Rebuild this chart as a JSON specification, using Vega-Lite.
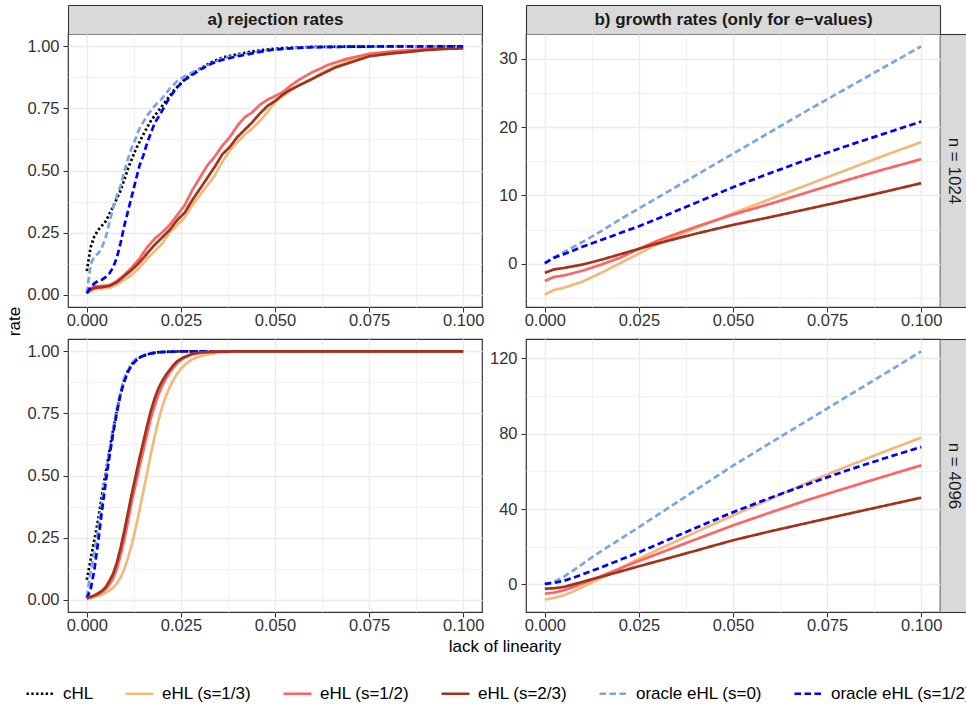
{
  "$schema": "https://vega.github.io/schema/vega-lite/v6.json",
  "padding": {"left": 5, "top": 3, "right": 5, "bottom": 5},
  "config": {
    "font": "Liberation Sans",
    "view": {"stroke": "#333333", "strokeWidth": 1.2},
    "axis": {"labelFontSize": 16.5, "labelColor": "#333333", "tickColor": "#333333", "tickSize": 5, "tickWidth": 1.1, "labelPadding": 3.5, "domain": false, "gridColor": "#EBEBEB", "titleFontSize": 17, "titleFontWeight": "normal", "titleColor": "#000000", "labelOverlap": false, "labelFlush": false},
    "axisX": {"labelPadding": 0.5},
    "axisY": {"labelPadding": 4},
    "legend": {"orient": "none", "legendX": -43, "legendY": 644, "direction": "horizontal", "columns": 6, "symbolType": "stroke", "symbolSize": 784, "symbolStrokeWidth": 2.7, "labelFontSize": 17, "labelColor": "#000000", "labelOffset": 7, "columnPadding": 26, "labelLimit": 300, "padding": 0}
  },
  "datasets": {
    "a1024": [
      {"method":"cHL","lack":0,"value":0.095},{"method":"cHL","lack":0.001,"value":0.19},{"method":"cHL","lack":0.002,"value":0.235},{"method":"cHL","lack":0.003,"value":0.26},{"method":"cHL","lack":0.005,"value":0.295},{"method":"cHL","lack":0.007,"value":0.355},{"method":"cHL","lack":0.009,"value":0.42},{"method":"cHL","lack":0.011,"value":0.51},{"method":"cHL","lack":0.013,"value":0.585},{"method":"cHL","lack":0.015,"value":0.645},{"method":"cHL","lack":0.017,"value":0.7},{"method":"cHL","lack":0.019,"value":0.74},{"method":"cHL","lack":0.021,"value":0.78},{"method":"cHL","lack":0.023,"value":0.82},{"method":"cHL","lack":0.025,"value":0.852},{"method":"cHL","lack":0.027,"value":0.88},{"method":"cHL","lack":0.03,"value":0.91},{"method":"cHL","lack":0.033,"value":0.935},{"method":"cHL","lack":0.036,"value":0.955},{"method":"cHL","lack":0.04,"value":0.968},{"method":"cHL","lack":0.044,"value":0.98},{"method":"cHL","lack":0.048,"value":0.988},{"method":"cHL","lack":0.052,"value":0.993},{"method":"cHL","lack":0.056,"value":0.996},{"method":"cHL","lack":0.06,"value":0.998},{"method":"cHL","lack":0.07,"value":0.999},{"method":"cHL","lack":0.08,"value":1},{"method":"cHL","lack":0.09,"value":1},{"method":"cHL","lack":0.1,"value":1},
      {"method":"oracle eHL (s=0)","lack":0,"value":0.005},{"method":"oracle eHL (s=0)","lack":0.001,"value":0.12},{"method":"oracle eHL (s=0)","lack":0.002,"value":0.155},{"method":"oracle eHL (s=0)","lack":0.003,"value":0.165},{"method":"oracle eHL (s=0)","lack":0.004,"value":0.19},{"method":"oracle eHL (s=0)","lack":0.005,"value":0.23},{"method":"oracle eHL (s=0)","lack":0.006,"value":0.29},{"method":"oracle eHL (s=0)","lack":0.007,"value":0.35},{"method":"oracle eHL (s=0)","lack":0.008,"value":0.4},{"method":"oracle eHL (s=0)","lack":0.009,"value":0.44},{"method":"oracle eHL (s=0)","lack":0.01,"value":0.5},{"method":"oracle eHL (s=0)","lack":0.011,"value":0.55},{"method":"oracle eHL (s=0)","lack":0.012,"value":0.595},{"method":"oracle eHL (s=0)","lack":0.013,"value":0.63},{"method":"oracle eHL (s=0)","lack":0.014,"value":0.67},{"method":"oracle eHL (s=0)","lack":0.016,"value":0.72},{"method":"oracle eHL (s=0)","lack":0.018,"value":0.76},{"method":"oracle eHL (s=0)","lack":0.02,"value":0.79},{"method":"oracle eHL (s=0)","lack":0.022,"value":0.83},{"method":"oracle eHL (s=0)","lack":0.024,"value":0.86},{"method":"oracle eHL (s=0)","lack":0.026,"value":0.88},{"method":"oracle eHL (s=0)","lack":0.028,"value":0.895},{"method":"oracle eHL (s=0)","lack":0.03,"value":0.91},{"method":"oracle eHL (s=0)","lack":0.033,"value":0.93},{"method":"oracle eHL (s=0)","lack":0.036,"value":0.952},{"method":"oracle eHL (s=0)","lack":0.04,"value":0.965},{"method":"oracle eHL (s=0)","lack":0.044,"value":0.975},{"method":"oracle eHL (s=0)","lack":0.048,"value":0.985},{"method":"oracle eHL (s=0)","lack":0.052,"value":0.99},{"method":"oracle eHL (s=0)","lack":0.056,"value":0.994},{"method":"oracle eHL (s=0)","lack":0.06,"value":0.996},{"method":"oracle eHL (s=0)","lack":0.07,"value":0.998},{"method":"oracle eHL (s=0)","lack":0.08,"value":0.999},{"method":"oracle eHL (s=0)","lack":0.09,"value":1},{"method":"oracle eHL (s=0)","lack":0.1,"value":1},
      {"method":"oracle eHL (s=1/2)","lack":0,"value":0.005},{"method":"oracle eHL (s=1/2)","lack":0.001,"value":0.03},{"method":"oracle eHL (s=1/2)","lack":0.002,"value":0.045},{"method":"oracle eHL (s=1/2)","lack":0.003,"value":0.055},{"method":"oracle eHL (s=1/2)","lack":0.004,"value":0.06},{"method":"oracle eHL (s=1/2)","lack":0.005,"value":0.07},{"method":"oracle eHL (s=1/2)","lack":0.006,"value":0.085},{"method":"oracle eHL (s=1/2)","lack":0.007,"value":0.11},{"method":"oracle eHL (s=1/2)","lack":0.008,"value":0.15},{"method":"oracle eHL (s=1/2)","lack":0.009,"value":0.21},{"method":"oracle eHL (s=1/2)","lack":0.01,"value":0.28},{"method":"oracle eHL (s=1/2)","lack":0.011,"value":0.34},{"method":"oracle eHL (s=1/2)","lack":0.012,"value":0.4},{"method":"oracle eHL (s=1/2)","lack":0.013,"value":0.46},{"method":"oracle eHL (s=1/2)","lack":0.014,"value":0.52},{"method":"oracle eHL (s=1/2)","lack":0.015,"value":0.56},{"method":"oracle eHL (s=1/2)","lack":0.016,"value":0.61},{"method":"oracle eHL (s=1/2)","lack":0.017,"value":0.65},{"method":"oracle eHL (s=1/2)","lack":0.018,"value":0.69},{"method":"oracle eHL (s=1/2)","lack":0.019,"value":0.715},{"method":"oracle eHL (s=1/2)","lack":0.02,"value":0.74},{"method":"oracle eHL (s=1/2)","lack":0.022,"value":0.795},{"method":"oracle eHL (s=1/2)","lack":0.024,"value":0.835},{"method":"oracle eHL (s=1/2)","lack":0.026,"value":0.865},{"method":"oracle eHL (s=1/2)","lack":0.028,"value":0.885},{"method":"oracle eHL (s=1/2)","lack":0.03,"value":0.905},{"method":"oracle eHL (s=1/2)","lack":0.033,"value":0.93},{"method":"oracle eHL (s=1/2)","lack":0.036,"value":0.946},{"method":"oracle eHL (s=1/2)","lack":0.04,"value":0.96},{"method":"oracle eHL (s=1/2)","lack":0.044,"value":0.972},{"method":"oracle eHL (s=1/2)","lack":0.048,"value":0.984},{"method":"oracle eHL (s=1/2)","lack":0.052,"value":0.99},{"method":"oracle eHL (s=1/2)","lack":0.056,"value":0.994},{"method":"oracle eHL (s=1/2)","lack":0.06,"value":0.997},{"method":"oracle eHL (s=1/2)","lack":0.07,"value":0.999},{"method":"oracle eHL (s=1/2)","lack":0.08,"value":1},{"method":"oracle eHL (s=1/2)","lack":0.1,"value":1},
      {"method":"eHL (s=1/3)","lack":0,"value":0.005},{"method":"eHL (s=1/3)","lack":0.002,"value":0.02},{"method":"eHL (s=1/3)","lack":0.004,"value":0.025},{"method":"eHL (s=1/3)","lack":0.006,"value":0.027},{"method":"eHL (s=1/3)","lack":0.008,"value":0.04},{"method":"eHL (s=1/3)","lack":0.01,"value":0.06},{"method":"eHL (s=1/3)","lack":0.012,"value":0.08},{"method":"eHL (s=1/3)","lack":0.014,"value":0.11},{"method":"eHL (s=1/3)","lack":0.016,"value":0.145},{"method":"eHL (s=1/3)","lack":0.018,"value":0.175},{"method":"eHL (s=1/3)","lack":0.02,"value":0.205},{"method":"eHL (s=1/3)","lack":0.022,"value":0.25},{"method":"eHL (s=1/3)","lack":0.024,"value":0.28},{"method":"eHL (s=1/3)","lack":0.026,"value":0.31},{"method":"eHL (s=1/3)","lack":0.028,"value":0.36},{"method":"eHL (s=1/3)","lack":0.03,"value":0.4},{"method":"eHL (s=1/3)","lack":0.032,"value":0.44},{"method":"eHL (s=1/3)","lack":0.034,"value":0.48},{"method":"eHL (s=1/3)","lack":0.036,"value":0.535},{"method":"eHL (s=1/3)","lack":0.038,"value":0.58},{"method":"eHL (s=1/3)","lack":0.04,"value":0.615},{"method":"eHL (s=1/3)","lack":0.042,"value":0.645},{"method":"eHL (s=1/3)","lack":0.044,"value":0.67},{"method":"eHL (s=1/3)","lack":0.046,"value":0.7},{"method":"eHL (s=1/3)","lack":0.048,"value":0.735},{"method":"eHL (s=1/3)","lack":0.05,"value":0.775},{"method":"eHL (s=1/3)","lack":0.052,"value":0.8},{"method":"eHL (s=1/3)","lack":0.054,"value":0.82},{"method":"eHL (s=1/3)","lack":0.056,"value":0.84},{"method":"eHL (s=1/3)","lack":0.058,"value":0.855},{"method":"eHL (s=1/3)","lack":0.06,"value":0.87},{"method":"eHL (s=1/3)","lack":0.062,"value":0.89},{"method":"eHL (s=1/3)","lack":0.064,"value":0.905},{"method":"eHL (s=1/3)","lack":0.066,"value":0.92},{"method":"eHL (s=1/3)","lack":0.068,"value":0.93},{"method":"eHL (s=1/3)","lack":0.07,"value":0.944},{"method":"eHL (s=1/3)","lack":0.075,"value":0.962},{"method":"eHL (s=1/3)","lack":0.08,"value":0.972},{"method":"eHL (s=1/3)","lack":0.085,"value":0.98},{"method":"eHL (s=1/3)","lack":0.09,"value":0.986},{"method":"eHL (s=1/3)","lack":0.095,"value":0.99},{"method":"eHL (s=1/3)","lack":0.1,"value":0.993},
      {"method":"eHL (s=1/2)","lack":0,"value":0.013},{"method":"eHL (s=1/2)","lack":0.001,"value":0.025},{"method":"eHL (s=1/2)","lack":0.002,"value":0.033},{"method":"eHL (s=1/2)","lack":0.004,"value":0.035},{"method":"eHL (s=1/2)","lack":0.006,"value":0.037},{"method":"eHL (s=1/2)","lack":0.008,"value":0.055},{"method":"eHL (s=1/2)","lack":0.01,"value":0.08},{"method":"eHL (s=1/2)","lack":0.012,"value":0.11},{"method":"eHL (s=1/2)","lack":0.014,"value":0.145},{"method":"eHL (s=1/2)","lack":0.016,"value":0.19},{"method":"eHL (s=1/2)","lack":0.018,"value":0.225},{"method":"eHL (s=1/2)","lack":0.02,"value":0.25},{"method":"eHL (s=1/2)","lack":0.022,"value":0.28},{"method":"eHL (s=1/2)","lack":0.024,"value":0.32},{"method":"eHL (s=1/2)","lack":0.026,"value":0.36},{"method":"eHL (s=1/2)","lack":0.028,"value":0.42},{"method":"eHL (s=1/2)","lack":0.03,"value":0.47},{"method":"eHL (s=1/2)","lack":0.032,"value":0.52},{"method":"eHL (s=1/2)","lack":0.034,"value":0.556},{"method":"eHL (s=1/2)","lack":0.036,"value":0.6},{"method":"eHL (s=1/2)","lack":0.038,"value":0.635},{"method":"eHL (s=1/2)","lack":0.04,"value":0.68},{"method":"eHL (s=1/2)","lack":0.042,"value":0.715},{"method":"eHL (s=1/2)","lack":0.044,"value":0.735},{"method":"eHL (s=1/2)","lack":0.046,"value":0.765},{"method":"eHL (s=1/2)","lack":0.048,"value":0.785},{"method":"eHL (s=1/2)","lack":0.05,"value":0.8},{"method":"eHL (s=1/2)","lack":0.052,"value":0.815},{"method":"eHL (s=1/2)","lack":0.054,"value":0.84},{"method":"eHL (s=1/2)","lack":0.056,"value":0.862},{"method":"eHL (s=1/2)","lack":0.058,"value":0.88},{"method":"eHL (s=1/2)","lack":0.06,"value":0.897},{"method":"eHL (s=1/2)","lack":0.062,"value":0.91},{"method":"eHL (s=1/2)","lack":0.064,"value":0.925},{"method":"eHL (s=1/2)","lack":0.066,"value":0.935},{"method":"eHL (s=1/2)","lack":0.068,"value":0.945},{"method":"eHL (s=1/2)","lack":0.07,"value":0.953},{"method":"eHL (s=1/2)","lack":0.075,"value":0.97},{"method":"eHL (s=1/2)","lack":0.08,"value":0.978},{"method":"eHL (s=1/2)","lack":0.085,"value":0.984},{"method":"eHL (s=1/2)","lack":0.09,"value":0.989},{"method":"eHL (s=1/2)","lack":0.095,"value":0.993},{"method":"eHL (s=1/2)","lack":0.1,"value":0.994},
      {"method":"eHL (s=2/3)","lack":0,"value":0.008},{"method":"eHL (s=2/3)","lack":0.001,"value":0.02},{"method":"eHL (s=2/3)","lack":0.002,"value":0.027},{"method":"eHL (s=2/3)","lack":0.004,"value":0.03},{"method":"eHL (s=2/3)","lack":0.006,"value":0.035},{"method":"eHL (s=2/3)","lack":0.008,"value":0.05},{"method":"eHL (s=2/3)","lack":0.01,"value":0.075},{"method":"eHL (s=2/3)","lack":0.012,"value":0.1},{"method":"eHL (s=2/3)","lack":0.014,"value":0.13},{"method":"eHL (s=2/3)","lack":0.016,"value":0.165},{"method":"eHL (s=2/3)","lack":0.018,"value":0.2},{"method":"eHL (s=2/3)","lack":0.02,"value":0.23},{"method":"eHL (s=2/3)","lack":0.022,"value":0.26},{"method":"eHL (s=2/3)","lack":0.024,"value":0.3},{"method":"eHL (s=2/3)","lack":0.026,"value":0.33},{"method":"eHL (s=2/3)","lack":0.028,"value":0.38},{"method":"eHL (s=2/3)","lack":0.03,"value":0.425},{"method":"eHL (s=2/3)","lack":0.032,"value":0.47},{"method":"eHL (s=2/3)","lack":0.034,"value":0.515},{"method":"eHL (s=2/3)","lack":0.036,"value":0.565},{"method":"eHL (s=2/3)","lack":0.038,"value":0.595},{"method":"eHL (s=2/3)","lack":0.04,"value":0.635},{"method":"eHL (s=2/3)","lack":0.042,"value":0.665},{"method":"eHL (s=2/3)","lack":0.044,"value":0.695},{"method":"eHL (s=2/3)","lack":0.046,"value":0.73},{"method":"eHL (s=2/3)","lack":0.048,"value":0.76},{"method":"eHL (s=2/3)","lack":0.05,"value":0.78},{"method":"eHL (s=2/3)","lack":0.052,"value":0.805},{"method":"eHL (s=2/3)","lack":0.054,"value":0.825},{"method":"eHL (s=2/3)","lack":0.056,"value":0.84},{"method":"eHL (s=2/3)","lack":0.058,"value":0.855},{"method":"eHL (s=2/3)","lack":0.06,"value":0.87},{"method":"eHL (s=2/3)","lack":0.062,"value":0.885},{"method":"eHL (s=2/3)","lack":0.064,"value":0.9},{"method":"eHL (s=2/3)","lack":0.066,"value":0.915},{"method":"eHL (s=2/3)","lack":0.068,"value":0.925},{"method":"eHL (s=2/3)","lack":0.07,"value":0.935},{"method":"eHL (s=2/3)","lack":0.075,"value":0.96},{"method":"eHL (s=2/3)","lack":0.08,"value":0.97},{"method":"eHL (s=2/3)","lack":0.085,"value":0.977},{"method":"eHL (s=2/3)","lack":0.09,"value":0.985},{"method":"eHL (s=2/3)","lack":0.095,"value":0.99},{"method":"eHL (s=2/3)","lack":0.1,"value":0.992}
    ],
    "a4096": [
      {"method":"cHL","lack":0,"value":0.08},{"method":"cHL","lack":0.001,"value":0.16},{"method":"cHL","lack":0.002,"value":0.24},{"method":"cHL","lack":0.003,"value":0.32},{"method":"cHL","lack":0.004,"value":0.42},{"method":"cHL","lack":0.005,"value":0.51},{"method":"cHL","lack":0.006,"value":0.6},{"method":"cHL","lack":0.007,"value":0.685},{"method":"cHL","lack":0.008,"value":0.765},{"method":"cHL","lack":0.009,"value":0.835},{"method":"cHL","lack":0.01,"value":0.89},{"method":"cHL","lack":0.011,"value":0.925},{"method":"cHL","lack":0.012,"value":0.95},{"method":"cHL","lack":0.013,"value":0.965},{"method":"cHL","lack":0.014,"value":0.975},{"method":"cHL","lack":0.016,"value":0.988},{"method":"cHL","lack":0.018,"value":0.995},{"method":"cHL","lack":0.02,"value":0.998},{"method":"cHL","lack":0.025,"value":1},{"method":"cHL","lack":0.05,"value":1},{"method":"cHL","lack":0.1,"value":1},
      {"method":"oracle eHL (s=0)","lack":0,"value":0.01},{"method":"oracle eHL (s=0)","lack":0.001,"value":0.11},{"method":"oracle eHL (s=0)","lack":0.002,"value":0.19},{"method":"oracle eHL (s=0)","lack":0.003,"value":0.28},{"method":"oracle eHL (s=0)","lack":0.004,"value":0.39},{"method":"oracle eHL (s=0)","lack":0.005,"value":0.5},{"method":"oracle eHL (s=0)","lack":0.006,"value":0.6},{"method":"oracle eHL (s=0)","lack":0.007,"value":0.69},{"method":"oracle eHL (s=0)","lack":0.008,"value":0.77},{"method":"oracle eHL (s=0)","lack":0.009,"value":0.84},{"method":"oracle eHL (s=0)","lack":0.01,"value":0.895},{"method":"oracle eHL (s=0)","lack":0.011,"value":0.925},{"method":"oracle eHL (s=0)","lack":0.012,"value":0.955},{"method":"oracle eHL (s=0)","lack":0.013,"value":0.97},{"method":"oracle eHL (s=0)","lack":0.014,"value":0.978},{"method":"oracle eHL (s=0)","lack":0.016,"value":0.99},{"method":"oracle eHL (s=0)","lack":0.018,"value":0.996},{"method":"oracle eHL (s=0)","lack":0.02,"value":0.999},{"method":"oracle eHL (s=0)","lack":0.025,"value":1},{"method":"oracle eHL (s=0)","lack":0.05,"value":1},{"method":"oracle eHL (s=0)","lack":0.1,"value":1},
      {"method":"oracle eHL (s=1/2)","lack":0,"value":0.005},{"method":"oracle eHL (s=1/2)","lack":0.001,"value":0.04},{"method":"oracle eHL (s=1/2)","lack":0.002,"value":0.12},{"method":"oracle eHL (s=1/2)","lack":0.003,"value":0.23},{"method":"oracle eHL (s=1/2)","lack":0.004,"value":0.355},{"method":"oracle eHL (s=1/2)","lack":0.005,"value":0.47},{"method":"oracle eHL (s=1/2)","lack":0.006,"value":0.575},{"method":"oracle eHL (s=1/2)","lack":0.007,"value":0.67},{"method":"oracle eHL (s=1/2)","lack":0.008,"value":0.755},{"method":"oracle eHL (s=1/2)","lack":0.009,"value":0.83},{"method":"oracle eHL (s=1/2)","lack":0.01,"value":0.88},{"method":"oracle eHL (s=1/2)","lack":0.011,"value":0.92},{"method":"oracle eHL (s=1/2)","lack":0.012,"value":0.945},{"method":"oracle eHL (s=1/2)","lack":0.013,"value":0.962},{"method":"oracle eHL (s=1/2)","lack":0.014,"value":0.975},{"method":"oracle eHL (s=1/2)","lack":0.016,"value":0.988},{"method":"oracle eHL (s=1/2)","lack":0.018,"value":0.994},{"method":"oracle eHL (s=1/2)","lack":0.02,"value":0.997},{"method":"oracle eHL (s=1/2)","lack":0.025,"value":1},{"method":"oracle eHL (s=1/2)","lack":0.05,"value":1},{"method":"oracle eHL (s=1/2)","lack":0.1,"value":1},
      {"method":"eHL (s=1/3)","lack":0,"value":0.003},{"method":"eHL (s=1/3)","lack":0.002,"value":0.01},{"method":"eHL (s=1/3)","lack":0.004,"value":0.02},{"method":"eHL (s=1/3)","lack":0.005,"value":0.028},{"method":"eHL (s=1/3)","lack":0.006,"value":0.036},{"method":"eHL (s=1/3)","lack":0.007,"value":0.048},{"method":"eHL (s=1/3)","lack":0.008,"value":0.065},{"method":"eHL (s=1/3)","lack":0.009,"value":0.09},{"method":"eHL (s=1/3)","lack":0.01,"value":0.125},{"method":"eHL (s=1/3)","lack":0.011,"value":0.17},{"method":"eHL (s=1/3)","lack":0.012,"value":0.225},{"method":"eHL (s=1/3)","lack":0.013,"value":0.29},{"method":"eHL (s=1/3)","lack":0.014,"value":0.36},{"method":"eHL (s=1/3)","lack":0.015,"value":0.435},{"method":"eHL (s=1/3)","lack":0.016,"value":0.51},{"method":"eHL (s=1/3)","lack":0.017,"value":0.585},{"method":"eHL (s=1/3)","lack":0.018,"value":0.655},{"method":"eHL (s=1/3)","lack":0.019,"value":0.72},{"method":"eHL (s=1/3)","lack":0.02,"value":0.775},{"method":"eHL (s=1/3)","lack":0.021,"value":0.82},{"method":"eHL (s=1/3)","lack":0.022,"value":0.855},{"method":"eHL (s=1/3)","lack":0.023,"value":0.885},{"method":"eHL (s=1/3)","lack":0.024,"value":0.91},{"method":"eHL (s=1/3)","lack":0.025,"value":0.93},{"method":"eHL (s=1/3)","lack":0.026,"value":0.945},{"method":"eHL (s=1/3)","lack":0.027,"value":0.958},{"method":"eHL (s=1/3)","lack":0.028,"value":0.968},{"method":"eHL (s=1/3)","lack":0.03,"value":0.98},{"method":"eHL (s=1/3)","lack":0.032,"value":0.988},{"method":"eHL (s=1/3)","lack":0.035,"value":0.995},{"method":"eHL (s=1/3)","lack":0.04,"value":0.999},{"method":"eHL (s=1/3)","lack":0.045,"value":1},{"method":"eHL (s=1/3)","lack":0.07,"value":1},{"method":"eHL (s=1/3)","lack":0.1,"value":1},
      {"method":"eHL (s=1/2)","lack":0,"value":0.005},{"method":"eHL (s=1/2)","lack":0.002,"value":0.015},{"method":"eHL (s=1/2)","lack":0.003,"value":0.02},{"method":"eHL (s=1/2)","lack":0.004,"value":0.03},{"method":"eHL (s=1/2)","lack":0.005,"value":0.042},{"method":"eHL (s=1/2)","lack":0.006,"value":0.06},{"method":"eHL (s=1/2)","lack":0.007,"value":0.085},{"method":"eHL (s=1/2)","lack":0.008,"value":0.125},{"method":"eHL (s=1/2)","lack":0.009,"value":0.18},{"method":"eHL (s=1/2)","lack":0.01,"value":0.245},{"method":"eHL (s=1/2)","lack":0.011,"value":0.32},{"method":"eHL (s=1/2)","lack":0.012,"value":0.4},{"method":"eHL (s=1/2)","lack":0.013,"value":0.465},{"method":"eHL (s=1/2)","lack":0.014,"value":0.535},{"method":"eHL (s=1/2)","lack":0.015,"value":0.6},{"method":"eHL (s=1/2)","lack":0.016,"value":0.665},{"method":"eHL (s=1/2)","lack":0.017,"value":0.73},{"method":"eHL (s=1/2)","lack":0.018,"value":0.78},{"method":"eHL (s=1/2)","lack":0.019,"value":0.825},{"method":"eHL (s=1/2)","lack":0.02,"value":0.86},{"method":"eHL (s=1/2)","lack":0.021,"value":0.89},{"method":"eHL (s=1/2)","lack":0.022,"value":0.915},{"method":"eHL (s=1/2)","lack":0.023,"value":0.935},{"method":"eHL (s=1/2)","lack":0.024,"value":0.952},{"method":"eHL (s=1/2)","lack":0.025,"value":0.965},{"method":"eHL (s=1/2)","lack":0.026,"value":0.975},{"method":"eHL (s=1/2)","lack":0.028,"value":0.988},{"method":"eHL (s=1/2)","lack":0.03,"value":0.994},{"method":"eHL (s=1/2)","lack":0.033,"value":0.998},{"method":"eHL (s=1/2)","lack":0.04,"value":1},{"method":"eHL (s=1/2)","lack":0.07,"value":1},{"method":"eHL (s=1/2)","lack":0.1,"value":1},
      {"method":"eHL (s=2/3)","lack":0,"value":0.005},{"method":"eHL (s=2/3)","lack":0.002,"value":0.017},{"method":"eHL (s=2/3)","lack":0.003,"value":0.025},{"method":"eHL (s=2/3)","lack":0.004,"value":0.035},{"method":"eHL (s=2/3)","lack":0.005,"value":0.05},{"method":"eHL (s=2/3)","lack":0.006,"value":0.075},{"method":"eHL (s=2/3)","lack":0.007,"value":0.105},{"method":"eHL (s=2/3)","lack":0.008,"value":0.15},{"method":"eHL (s=2/3)","lack":0.009,"value":0.21},{"method":"eHL (s=2/3)","lack":0.01,"value":0.28},{"method":"eHL (s=2/3)","lack":0.011,"value":0.355},{"method":"eHL (s=2/3)","lack":0.012,"value":0.43},{"method":"eHL (s=2/3)","lack":0.013,"value":0.5},{"method":"eHL (s=2/3)","lack":0.014,"value":0.57},{"method":"eHL (s=2/3)","lack":0.015,"value":0.635},{"method":"eHL (s=2/3)","lack":0.016,"value":0.7},{"method":"eHL (s=2/3)","lack":0.017,"value":0.76},{"method":"eHL (s=2/3)","lack":0.018,"value":0.81},{"method":"eHL (s=2/3)","lack":0.019,"value":0.85},{"method":"eHL (s=2/3)","lack":0.02,"value":0.88},{"method":"eHL (s=2/3)","lack":0.021,"value":0.905},{"method":"eHL (s=2/3)","lack":0.022,"value":0.925},{"method":"eHL (s=2/3)","lack":0.023,"value":0.945},{"method":"eHL (s=2/3)","lack":0.024,"value":0.96},{"method":"eHL (s=2/3)","lack":0.025,"value":0.97},{"method":"eHL (s=2/3)","lack":0.026,"value":0.978},{"method":"eHL (s=2/3)","lack":0.028,"value":0.99},{"method":"eHL (s=2/3)","lack":0.03,"value":0.996},{"method":"eHL (s=2/3)","lack":0.035,"value":0.999},{"method":"eHL (s=2/3)","lack":0.04,"value":1},{"method":"eHL (s=2/3)","lack":0.07,"value":1},{"method":"eHL (s=2/3)","lack":0.1,"value":1}
    ],
    "b1024": [
      {"method":"eHL (s=1/3)","lack":0,"value":-4.5},{"method":"eHL (s=1/3)","lack":0.0025,"value":-3.8},{"method":"eHL (s=1/3)","lack":0.005,"value":-3.5},{"method":"eHL (s=1/3)","lack":0.01,"value":-2.6},{"method":"eHL (s=1/3)","lack":0.015,"value":-1.3},{"method":"eHL (s=1/3)","lack":0.02,"value":0.1},{"method":"eHL (s=1/3)","lack":0.025,"value":1.5},{"method":"eHL (s=1/3)","lack":0.03,"value":2.9},{"method":"eHL (s=1/3)","lack":0.04,"value":5.2},{"method":"eHL (s=1/3)","lack":0.05,"value":7.4},{"method":"eHL (s=1/3)","lack":0.06,"value":9.5},{"method":"eHL (s=1/3)","lack":0.07,"value":11.6},{"method":"eHL (s=1/3)","lack":0.08,"value":13.7},{"method":"eHL (s=1/3)","lack":0.09,"value":15.8},{"method":"eHL (s=1/3)","lack":0.1,"value":17.8},
      {"method":"eHL (s=1/2)","lack":0,"value":-2.5},{"method":"eHL (s=1/2)","lack":0.0025,"value":-1.9},{"method":"eHL (s=1/2)","lack":0.005,"value":-1.7},{"method":"eHL (s=1/2)","lack":0.01,"value":-1.0},{"method":"eHL (s=1/2)","lack":0.015,"value":-0.1},{"method":"eHL (s=1/2)","lack":0.02,"value":0.9},{"method":"eHL (s=1/2)","lack":0.025,"value":2.2},{"method":"eHL (s=1/2)","lack":0.03,"value":3.4},{"method":"eHL (s=1/2)","lack":0.04,"value":5.4},{"method":"eHL (s=1/2)","lack":0.05,"value":7.2},{"method":"eHL (s=1/2)","lack":0.06,"value":8.8},{"method":"eHL (s=1/2)","lack":0.07,"value":10.5},{"method":"eHL (s=1/2)","lack":0.08,"value":12.2},{"method":"eHL (s=1/2)","lack":0.09,"value":13.8},{"method":"eHL (s=1/2)","lack":0.1,"value":15.3},
      {"method":"eHL (s=2/3)","lack":0,"value":-1.3},{"method":"eHL (s=2/3)","lack":0.0025,"value":-0.8},{"method":"eHL (s=2/3)","lack":0.005,"value":-0.6},{"method":"eHL (s=2/3)","lack":0.01,"value":-0.1},{"method":"eHL (s=2/3)","lack":0.015,"value":0.6},{"method":"eHL (s=2/3)","lack":0.02,"value":1.4},{"method":"eHL (s=2/3)","lack":0.025,"value":2.2},{"method":"eHL (s=2/3)","lack":0.03,"value":3.0},{"method":"eHL (s=2/3)","lack":0.04,"value":4.4},{"method":"eHL (s=2/3)","lack":0.05,"value":5.7},{"method":"eHL (s=2/3)","lack":0.06,"value":6.85},{"method":"eHL (s=2/3)","lack":0.07,"value":8.05},{"method":"eHL (s=2/3)","lack":0.08,"value":9.25},{"method":"eHL (s=2/3)","lack":0.09,"value":10.5},{"method":"eHL (s=2/3)","lack":0.1,"value":11.8},
      {"method":"oracle eHL (s=0)","lack":0,"value":0.1},{"method":"oracle eHL (s=0)","lack":0.0025,"value":1.0},{"method":"oracle eHL (s=0)","lack":0.005,"value":1.7},{"method":"oracle eHL (s=0)","lack":0.01,"value":3.2},{"method":"oracle eHL (s=0)","lack":0.015,"value":4.8},{"method":"oracle eHL (s=0)","lack":0.02,"value":6.5},{"method":"oracle eHL (s=0)","lack":0.025,"value":8.1},{"method":"oracle eHL (s=0)","lack":0.03,"value":9.7},{"method":"oracle eHL (s=0)","lack":0.04,"value":12.9},{"method":"oracle eHL (s=0)","lack":0.05,"value":16.1},{"method":"oracle eHL (s=0)","lack":0.06,"value":19.3},{"method":"oracle eHL (s=0)","lack":0.07,"value":22.5},{"method":"oracle eHL (s=0)","lack":0.08,"value":25.6},{"method":"oracle eHL (s=0)","lack":0.09,"value":28.7},{"method":"oracle eHL (s=0)","lack":0.1,"value":31.8},
      {"method":"oracle eHL (s=1/2)","lack":0,"value":0.1},{"method":"oracle eHL (s=1/2)","lack":0.0025,"value":0.9},{"method":"oracle eHL (s=1/2)","lack":0.005,"value":1.4},{"method":"oracle eHL (s=1/2)","lack":0.01,"value":2.5},{"method":"oracle eHL (s=1/2)","lack":0.015,"value":3.5},{"method":"oracle eHL (s=1/2)","lack":0.02,"value":4.5},{"method":"oracle eHL (s=1/2)","lack":0.025,"value":5.5},{"method":"oracle eHL (s=1/2)","lack":0.03,"value":6.6},{"method":"oracle eHL (s=1/2)","lack":0.04,"value":8.9},{"method":"oracle eHL (s=1/2)","lack":0.05,"value":11.2},{"method":"oracle eHL (s=1/2)","lack":0.06,"value":13.3},{"method":"oracle eHL (s=1/2)","lack":0.07,"value":15.3},{"method":"oracle eHL (s=1/2)","lack":0.08,"value":17.2},{"method":"oracle eHL (s=1/2)","lack":0.09,"value":19.0},{"method":"oracle eHL (s=1/2)","lack":0.1,"value":20.8}
    ],
    "b4096": [
      {"method":"eHL (s=1/3)","lack":0,"value":-8.1},{"method":"eHL (s=1/3)","lack":0.0025,"value":-7.2},{"method":"eHL (s=1/3)","lack":0.005,"value":-5.8},{"method":"eHL (s=1/3)","lack":0.0075,"value":-3.8},{"method":"eHL (s=1/3)","lack":0.01,"value":-1.5},{"method":"eHL (s=1/3)","lack":0.0125,"value":0.9},{"method":"eHL (s=1/3)","lack":0.015,"value":3.4},{"method":"eHL (s=1/3)","lack":0.02,"value":8.5},{"method":"eHL (s=1/3)","lack":0.025,"value":13.6},{"method":"eHL (s=1/3)","lack":0.03,"value":18.3},{"method":"eHL (s=1/3)","lack":0.04,"value":27.6},{"method":"eHL (s=1/3)","lack":0.05,"value":36.6},{"method":"eHL (s=1/3)","lack":0.06,"value":45.4},{"method":"eHL (s=1/3)","lack":0.07,"value":54.2},{"method":"eHL (s=1/3)","lack":0.08,"value":62.4},{"method":"eHL (s=1/3)","lack":0.09,"value":70.3},{"method":"eHL (s=1/3)","lack":0.1,"value":77.9},
      {"method":"eHL (s=1/2)","lack":0,"value":-5.0},{"method":"eHL (s=1/2)","lack":0.0025,"value":-4.4},{"method":"eHL (s=1/2)","lack":0.005,"value":-3.2},{"method":"eHL (s=1/2)","lack":0.0075,"value":-1.5},{"method":"eHL (s=1/2)","lack":0.01,"value":0.4},{"method":"eHL (s=1/2)","lack":0.0125,"value":2.4},{"method":"eHL (s=1/2)","lack":0.015,"value":4.4},{"method":"eHL (s=1/2)","lack":0.02,"value":8.4},{"method":"eHL (s=1/2)","lack":0.025,"value":12.4},{"method":"eHL (s=1/2)","lack":0.03,"value":16.2},{"method":"eHL (s=1/2)","lack":0.04,"value":23.8},{"method":"eHL (s=1/2)","lack":0.05,"value":31.3},{"method":"eHL (s=1/2)","lack":0.06,"value":38.2},{"method":"eHL (s=1/2)","lack":0.07,"value":44.9},{"method":"eHL (s=1/2)","lack":0.08,"value":51.1},{"method":"eHL (s=1/2)","lack":0.09,"value":57.2},{"method":"eHL (s=1/2)","lack":0.1,"value":63.2},
      {"method":"eHL (s=2/3)","lack":0,"value":-2.3},{"method":"eHL (s=2/3)","lack":0.0025,"value":-2.1},{"method":"eHL (s=2/3)","lack":0.005,"value":-1.4},{"method":"eHL (s=2/3)","lack":0.0075,"value":-0.1},{"method":"eHL (s=2/3)","lack":0.01,"value":1.3},{"method":"eHL (s=2/3)","lack":0.0125,"value":2.7},{"method":"eHL (s=2/3)","lack":0.015,"value":4.0},{"method":"eHL (s=2/3)","lack":0.02,"value":6.8},{"method":"eHL (s=2/3)","lack":0.025,"value":9.6},{"method":"eHL (s=2/3)","lack":0.03,"value":12.3},{"method":"eHL (s=2/3)","lack":0.04,"value":17.8},{"method":"eHL (s=2/3)","lack":0.05,"value":23.4},{"method":"eHL (s=2/3)","lack":0.06,"value":28.2},{"method":"eHL (s=2/3)","lack":0.07,"value":32.7},{"method":"eHL (s=2/3)","lack":0.08,"value":37.2},{"method":"eHL (s=2/3)","lack":0.09,"value":41.6},{"method":"eHL (s=2/3)","lack":0.1,"value":46.0},
      {"method":"oracle eHL (s=0)","lack":0,"value":0},{"method":"oracle eHL (s=0)","lack":0.0025,"value":1.5},{"method":"oracle eHL (s=0)","lack":0.005,"value":3.9},{"method":"oracle eHL (s=0)","lack":0.0075,"value":7.3},{"method":"oracle eHL (s=0)","lack":0.01,"value":10.8},{"method":"oracle eHL (s=0)","lack":0.0125,"value":14.3},{"method":"oracle eHL (s=0)","lack":0.015,"value":17.6},{"method":"oracle eHL (s=0)","lack":0.02,"value":24.0},{"method":"oracle eHL (s=0)","lack":0.025,"value":30.4},{"method":"oracle eHL (s=0)","lack":0.03,"value":36.9},{"method":"oracle eHL (s=0)","lack":0.04,"value":50.0},{"method":"oracle eHL (s=0)","lack":0.05,"value":63.0},{"method":"oracle eHL (s=0)","lack":0.06,"value":75.2},{"method":"oracle eHL (s=0)","lack":0.07,"value":87.3},{"method":"oracle eHL (s=0)","lack":0.08,"value":99.4},{"method":"oracle eHL (s=0)","lack":0.09,"value":111.5},{"method":"oracle eHL (s=0)","lack":0.1,"value":123.7},
      {"method":"oracle eHL (s=1/2)","lack":0,"value":0.2},{"method":"oracle eHL (s=1/2)","lack":0.0025,"value":0.8},{"method":"oracle eHL (s=1/2)","lack":0.005,"value":1.8},{"method":"oracle eHL (s=1/2)","lack":0.0075,"value":3.5},{"method":"oracle eHL (s=1/2)","lack":0.01,"value":5.3},{"method":"oracle eHL (s=1/2)","lack":0.0125,"value":7.1},{"method":"oracle eHL (s=1/2)","lack":0.015,"value":9.0},{"method":"oracle eHL (s=1/2)","lack":0.02,"value":13.0},{"method":"oracle eHL (s=1/2)","lack":0.025,"value":17.0},{"method":"oracle eHL (s=1/2)","lack":0.03,"value":21.3},{"method":"oracle eHL (s=1/2)","lack":0.04,"value":29.9},{"method":"oracle eHL (s=1/2)","lack":0.05,"value":38.3},{"method":"oracle eHL (s=1/2)","lack":0.06,"value":46.0},{"method":"oracle eHL (s=1/2)","lack":0.07,"value":53.3},{"method":"oracle eHL (s=1/2)","lack":0.08,"value":60.3},{"method":"oracle eHL (s=1/2)","lack":0.09,"value":66.8},{"method":"oracle eHL (s=1/2)","lack":0.1,"value":72.9}
    ]
  },
  "columns": 2,
  "spacing": {"row": 32, "column": 44},
  "bounds": "flush",
  "concat": [
    {
      "width": 414, "height": 273,
      "resolve": {"axis": {"x": "independent", "y": "independent"}},
      "layer": [
        {
          "data": {"name": "a1024"},
          "transform": [{"filter": {"field": "method", "oneOf": ["cHL"]}}],
          "mark": {"type": "line", "strokeWidth": 2.7, "strokeCap": "butt"},
          "encoding": {
            "x": {"field": "lack", "type": "quantitative", "scale": {"domain": [-0.005, 0.105], "nice": false, "zero": false},
              "axis": {"orient": "top", "offset": 14.5, "domain": true, "domainColor": "#D9D9D9", "domainWidth": 29, "ticks": false, "labels": false, "grid": false, "title": "a) rejection rates", "titleFontWeight": "bold", "titleFontSize": 17, "titleColor": "#1A1A1A", "titleX": 207, "titleY": 0, "titleBaseline": "middle", "titleAlign": "center", "titleAngle": 0}},
            "y": {"field": "value", "type": "quantitative", "scale": {"domain": [-0.05, 1.05], "nice": false, "zero": false}, "axis": null},
            "color": {"field": "method", "type": "nominal", "scale": {"domain": ["cHL","eHL (s=1/3)","eHL (s=1/2)","eHL (s=2/3)","oracle eHL (s=0)","oracle eHL (s=1/2)"], "range": ["#000000","#F1BA78","#FF6464","#A1321B","#7AA6DC","#0000FF"]}, "legend": {"title": null}},
            "strokeDash": {"field": "method", "type": "nominal", "scale": {"domain": ["cHL","eHL (s=1/3)","eHL (s=1/2)","eHL (s=2/3)","oracle eHL (s=0)","oracle eHL (s=1/2)"], "range": [[2.4,2.4],[1,0],[1,0],[1,0],[6.5,3.5],[6.5,3.5]]}, "legend": {"title": null}}
          }
        },
        {
          "data": {"name": "a1024"},
          "transform": [{"filter": {"field": "method", "oneOf": ["eHL (s=1/3)","eHL (s=1/2)","eHL (s=2/3)"]}}],
          "mark": {"type": "line", "strokeWidth": 2.7, "strokeCap": "butt"},
          "encoding": {
            "x": {"field": "lack", "type": "quantitative", "scale": {"domain": [-0.005, 0.105], "nice": false, "zero": false},
              "axis": {"orient": "bottom", "values": [0,0.0125,0.025,0.0375,0.05,0.0625,0.075,0.0875,0.1], "labelExpr": "abs(datum.value*40-round(datum.value*40))<1e-6 ? format(datum.value,'.3f') : ''", "grid": true, "gridWidth": {"condition": {"test": "abs(datum.value*40-round(datum.value*40))<1e-6", "value": 1.3}, "value": 0.7}, "tickOpacity": {"condition": {"test": "abs(datum.value*40-round(datum.value*40))<1e-6", "value": 1}, "value": 0}, "title": null}},
            "y": {"field": "value", "type": "quantitative", "scale": {"domain": [-0.05, 1.05], "nice": false, "zero": false},
              "axis": {"orient": "left", "values": [0,0.125,0.25,0.375,0.5,0.625,0.75,0.875,1], "labelExpr": "abs(datum.value*4-round(datum.value*4))<1e-6 ? format(datum.value,'.2f') : ''", "grid": true, "gridWidth": {"condition": {"test": "abs(datum.value*4-round(datum.value*4))<1e-6", "value": 1.3}, "value": 0.7}, "tickOpacity": {"condition": {"test": "abs(datum.value*4-round(datum.value*4))<1e-6", "value": 1}, "value": 0}, "title": "rate", "titleY": 287, "titlePadding": 3}},
            "color": {"field": "method", "type": "nominal", "scale": {"domain": ["cHL","eHL (s=1/3)","eHL (s=1/2)","eHL (s=2/3)","oracle eHL (s=0)","oracle eHL (s=1/2)"], "range": ["#000000","#F1BA78","#FF6464","#A1321B","#7AA6DC","#0000FF"]}, "legend": {"title": null}},
            "strokeDash": {"field": "method", "type": "nominal", "scale": {"domain": ["cHL","eHL (s=1/3)","eHL (s=1/2)","eHL (s=2/3)","oracle eHL (s=0)","oracle eHL (s=1/2)"], "range": [[2.4,2.4],[1,0],[1,0],[1,0],[6.5,3.5],[6.5,3.5]]}, "legend": {"title": null}}
          }
        },
        {
          "data": {"name": "a1024"},
          "transform": [{"filter": {"field": "method", "oneOf": ["oracle eHL (s=0)","oracle eHL (s=1/2)"]}}],
          "mark": {"type": "line", "strokeWidth": 2.7, "strokeCap": "butt"},
          "encoding": {
            "x": {"field": "lack", "type": "quantitative", "scale": {"domain": [-0.005, 0.105], "nice": false, "zero": false},
              "axis": {"orient": "top", "offset": 29, "domain": true, "domainColor": "#333333", "domainWidth": 1.1, "ticks": true, "values": [-0.005, 0.105], "tickSize": -29, "tickColor": "#333333", "tickWidth": 1.1, "labels": false, "grid": false, "title": null, "zindex": 1}},
            "y": {"field": "value", "type": "quantitative", "scale": {"domain": [-0.05, 1.05], "nice": false, "zero": false}, "axis": null},
            "color": {"field": "method", "type": "nominal", "scale": {"domain": ["cHL","eHL (s=1/3)","eHL (s=1/2)","eHL (s=2/3)","oracle eHL (s=0)","oracle eHL (s=1/2)"], "range": ["#000000","#F1BA78","#FF6464","#A1321B","#7AA6DC","#0000FF"]}, "legend": {"title": null}},
            "strokeDash": {"field": "method", "type": "nominal", "scale": {"domain": ["cHL","eHL (s=1/3)","eHL (s=1/2)","eHL (s=2/3)","oracle eHL (s=0)","oracle eHL (s=1/2)"], "range": [[2.4,2.4],[1,0],[1,0],[1,0],[6.5,3.5],[6.5,3.5]]}, "legend": {"title": null}}
          }
        }
      ]
    },
    {
      "width": 414, "height": 273,
      "resolve": {"axis": {"x": "independent", "y": "independent"}},
      "layer": [
        {
          "data": {"name": "b1024"},
          "transform": [{"filter": {"field": "method", "oneOf": ["eHL (s=1/3)","eHL (s=1/2)","eHL (s=2/3)"]}}],
          "mark": {"type": "line", "strokeWidth": 2.7, "strokeCap": "butt"},
          "encoding": {
            "x": {"field": "lack", "type": "quantitative", "scale": {"domain": [-0.005, 0.105], "nice": false, "zero": false},
              "axis": {"orient": "bottom", "values": [0,0.0125,0.025,0.0375,0.05,0.0625,0.075,0.0875,0.1], "labelExpr": "abs(datum.value*40-round(datum.value*40))<1e-6 ? format(datum.value,'.3f') : ''", "grid": true, "gridWidth": {"condition": {"test": "abs(datum.value*40-round(datum.value*40))<1e-6", "value": 1.3}, "value": 0.7}, "tickOpacity": {"condition": {"test": "abs(datum.value*40-round(datum.value*40))<1e-6", "value": 1}, "value": 0}, "title": null}},
            "y": {"field": "value", "type": "quantitative", "scale": {"domain": [-6.3, 33.6], "nice": false, "zero": false},
              "axis": {"orient": "left", "values": [-5,0,5,10,15,20,25,30], "labelExpr": "datum.value % 10 == 0 ? format(datum.value,'d') : ''", "grid": true, "gridWidth": {"condition": {"test": "datum.value % 10 == 0", "value": 1.3}, "value": 0.7}, "tickOpacity": {"condition": {"test": "datum.value % 10 == 0", "value": 1}, "value": 0}, "title": null}},
            "color": {"field": "method", "type": "nominal", "scale": {"domain": ["cHL","eHL (s=1/3)","eHL (s=1/2)","eHL (s=2/3)","oracle eHL (s=0)","oracle eHL (s=1/2)"], "range": ["#000000","#F1BA78","#FF6464","#A1321B","#7AA6DC","#0000FF"]}, "legend": {"title": null}},
            "strokeDash": {"field": "method", "type": "nominal", "scale": {"domain": ["cHL","eHL (s=1/3)","eHL (s=1/2)","eHL (s=2/3)","oracle eHL (s=0)","oracle eHL (s=1/2)"], "range": [[2.4,2.4],[1,0],[1,0],[1,0],[6.5,3.5],[6.5,3.5]]}, "legend": {"title": null}}
          }
        },
        {
          "data": {"name": "b1024"},
          "transform": [{"filter": {"field": "method", "oneOf": ["oracle eHL (s=0)"]}}],
          "mark": {"type": "line", "strokeWidth": 2.7, "strokeCap": "butt"},
          "encoding": {
            "x": {"field": "lack", "type": "quantitative", "scale": {"domain": [-0.005, 0.105], "nice": false, "zero": false},
              "axis": {"orient": "top", "offset": 14.5, "domain": true, "domainColor": "#D9D9D9", "domainWidth": 29, "ticks": false, "labels": false, "grid": false, "title": "b) growth rates (only for e−values)", "titleFontWeight": "bold", "titleFontSize": 17, "titleColor": "#1A1A1A", "titleX": 207, "titleY": 0, "titleBaseline": "middle", "titleAlign": "center", "titleAngle": 0}},
            "y": {"field": "value", "type": "quantitative", "scale": {"domain": [-6.3, 33.6], "nice": false, "zero": false},
              "axis": {"orient": "right", "offset": 13, "domain": true, "domainColor": "#D9D9D9", "domainWidth": 26, "ticks": false, "labels": false, "grid": false, "title": "n = 1024", "titleAngle": 90, "titleFontSize": 17, "titleFontWeight": "normal", "titleColor": "#1A1A1A", "titleX": 0, "titleY": 136.5, "titleBaseline": "middle", "titleAlign": "center"}},
            "color": {"field": "method", "type": "nominal", "scale": {"domain": ["cHL","eHL (s=1/3)","eHL (s=1/2)","eHL (s=2/3)","oracle eHL (s=0)","oracle eHL (s=1/2)"], "range": ["#000000","#F1BA78","#FF6464","#A1321B","#7AA6DC","#0000FF"]}, "legend": {"title": null}},
            "strokeDash": {"field": "method", "type": "nominal", "scale": {"domain": ["cHL","eHL (s=1/3)","eHL (s=1/2)","eHL (s=2/3)","oracle eHL (s=0)","oracle eHL (s=1/2)"], "range": [[2.4,2.4],[1,0],[1,0],[1,0],[6.5,3.5],[6.5,3.5]]}, "legend": {"title": null}}
          }
        },
        {
          "data": {"name": "b1024"},
          "transform": [{"filter": {"field": "method", "oneOf": ["oracle eHL (s=1/2)"]}}],
          "mark": {"type": "line", "strokeWidth": 2.7, "strokeCap": "butt"},
          "encoding": {
            "x": {"field": "lack", "type": "quantitative", "scale": {"domain": [-0.005, 0.105], "nice": false, "zero": false},
              "axis": {"orient": "top", "offset": 29, "domain": true, "domainColor": "#333333", "domainWidth": 1.1, "ticks": true, "values": [-0.005, 0.105], "tickSize": -29, "tickColor": "#333333", "tickWidth": 1.1, "labels": false, "grid": false, "title": null, "zindex": 1}},
            "y": {"field": "value", "type": "quantitative", "scale": {"domain": [-6.3, 33.6], "nice": false, "zero": false},
              "axis": {"orient": "right", "offset": 0, "domain": false, "ticks": true, "values": [-6.3, 33.6], "tickSize": 26, "tickColor": "#333333", "tickWidth": 1.1, "labels": false, "grid": false, "title": null, "zindex": 1}},
            "color": {"field": "method", "type": "nominal", "scale": {"domain": ["cHL","eHL (s=1/3)","eHL (s=1/2)","eHL (s=2/3)","oracle eHL (s=0)","oracle eHL (s=1/2)"], "range": ["#000000","#F1BA78","#FF6464","#A1321B","#7AA6DC","#0000FF"]}, "legend": {"title": null}},
            "strokeDash": {"field": "method", "type": "nominal", "scale": {"domain": ["cHL","eHL (s=1/3)","eHL (s=1/2)","eHL (s=2/3)","oracle eHL (s=0)","oracle eHL (s=1/2)"], "range": [[2.4,2.4],[1,0],[1,0],[1,0],[6.5,3.5],[6.5,3.5]]}, "legend": {"title": null}}
          }
        }
      ]
    },
    {
      "width": 414, "height": 273,
      "data": {"name": "a4096"},
      "mark": {"type": "line", "strokeWidth": 2.7, "strokeCap": "butt"},
      "encoding": {
        "x": {"field": "lack", "type": "quantitative", "scale": {"domain": [-0.005, 0.105], "nice": false, "zero": false},
          "axis": {"orient": "bottom", "values": [0,0.0125,0.025,0.0375,0.05,0.0625,0.075,0.0875,0.1], "labelExpr": "abs(datum.value*40-round(datum.value*40))<1e-6 ? format(datum.value,'.3f') : ''", "grid": true, "gridWidth": {"condition": {"test": "abs(datum.value*40-round(datum.value*40))<1e-6", "value": 1.3}, "value": 0.7}, "tickOpacity": {"condition": {"test": "abs(datum.value*40-round(datum.value*40))<1e-6", "value": 1}, "value": 0}, "title": "lack of linearity", "titleX": 436.5, "titlePadding": 4}},
        "y": {"field": "value", "type": "quantitative", "scale": {"domain": [-0.05, 1.05], "nice": false, "zero": false},
          "axis": {"orient": "left", "values": [0,0.125,0.25,0.375,0.5,0.625,0.75,0.875,1], "labelExpr": "abs(datum.value*4-round(datum.value*4))<1e-6 ? format(datum.value,'.2f') : ''", "grid": true, "gridWidth": {"condition": {"test": "abs(datum.value*4-round(datum.value*4))<1e-6", "value": 1.3}, "value": 0.7}, "tickOpacity": {"condition": {"test": "abs(datum.value*4-round(datum.value*4))<1e-6", "value": 1}, "value": 0}, "title": null}},
        "color": {"field": "method", "type": "nominal", "scale": {"domain": ["cHL","eHL (s=1/3)","eHL (s=1/2)","eHL (s=2/3)","oracle eHL (s=0)","oracle eHL (s=1/2)"], "range": ["#000000","#F1BA78","#FF6464","#A1321B","#7AA6DC","#0000FF"]}, "legend": {"title": null}},
        "strokeDash": {"field": "method", "type": "nominal", "scale": {"domain": ["cHL","eHL (s=1/3)","eHL (s=1/2)","eHL (s=2/3)","oracle eHL (s=0)","oracle eHL (s=1/2)"], "range": [[2.4,2.4],[1,0],[1,0],[1,0],[6.5,3.5],[6.5,3.5]]}, "legend": {"title": null}}
      }
    },
    {
      "width": 414, "height": 273,
      "resolve": {"axis": {"x": "independent", "y": "independent"}},
      "layer": [
        {
          "data": {"name": "b4096"},
          "transform": [{"filter": {"field": "method", "oneOf": ["eHL (s=1/3)","eHL (s=1/2)","eHL (s=2/3)"]}}],
          "mark": {"type": "line", "strokeWidth": 2.7, "strokeCap": "butt"},
          "encoding": {
            "x": {"field": "lack", "type": "quantitative", "scale": {"domain": [-0.005, 0.105], "nice": false, "zero": false},
              "axis": {"orient": "bottom", "values": [0,0.0125,0.025,0.0375,0.05,0.0625,0.075,0.0875,0.1], "labelExpr": "abs(datum.value*40-round(datum.value*40))<1e-6 ? format(datum.value,'.3f') : ''", "grid": true, "gridWidth": {"condition": {"test": "abs(datum.value*40-round(datum.value*40))<1e-6", "value": 1.3}, "value": 0.7}, "tickOpacity": {"condition": {"test": "abs(datum.value*40-round(datum.value*40))<1e-6", "value": 1}, "value": 0}, "title": null}},
            "y": {"field": "value", "type": "quantitative", "scale": {"domain": [-14.7, 130.3], "nice": false, "zero": false},
              "axis": {"orient": "left", "values": [0,20,40,60,80,100,120], "labelExpr": "datum.value % 40 == 0 ? format(datum.value,'d') : ''", "grid": true, "gridWidth": {"condition": {"test": "datum.value % 40 == 0", "value": 1.3}, "value": 0.7}, "tickOpacity": {"condition": {"test": "datum.value % 40 == 0", "value": 1}, "value": 0}, "title": null}},
            "color": {"field": "method", "type": "nominal", "scale": {"domain": ["cHL","eHL (s=1/3)","eHL (s=1/2)","eHL (s=2/3)","oracle eHL (s=0)","oracle eHL (s=1/2)"], "range": ["#000000","#F1BA78","#FF6464","#A1321B","#7AA6DC","#0000FF"]}, "legend": {"title": null}},
            "strokeDash": {"field": "method", "type": "nominal", "scale": {"domain": ["cHL","eHL (s=1/3)","eHL (s=1/2)","eHL (s=2/3)","oracle eHL (s=0)","oracle eHL (s=1/2)"], "range": [[2.4,2.4],[1,0],[1,0],[1,0],[6.5,3.5],[6.5,3.5]]}, "legend": {"title": null}}
          }
        },
        {
          "data": {"name": "b4096"},
          "transform": [{"filter": {"field": "method", "oneOf": ["oracle eHL (s=0)"]}}],
          "mark": {"type": "line", "strokeWidth": 2.7, "strokeCap": "butt"},
          "encoding": {
            "x": {"field": "lack", "type": "quantitative", "scale": {"domain": [-0.005, 0.105], "nice": false, "zero": false}, "axis": null},
            "y": {"field": "value", "type": "quantitative", "scale": {"domain": [-14.7, 130.3], "nice": false, "zero": false},
              "axis": {"orient": "right", "offset": 13, "domain": true, "domainColor": "#D9D9D9", "domainWidth": 26, "ticks": false, "labels": false, "grid": false, "title": "n = 4096", "titleAngle": 90, "titleFontSize": 17, "titleFontWeight": "normal", "titleColor": "#1A1A1A", "titleX": 0, "titleY": 136.5, "titleBaseline": "middle", "titleAlign": "center"}},
            "color": {"field": "method", "type": "nominal", "scale": {"domain": ["cHL","eHL (s=1/3)","eHL (s=1/2)","eHL (s=2/3)","oracle eHL (s=0)","oracle eHL (s=1/2)"], "range": ["#000000","#F1BA78","#FF6464","#A1321B","#7AA6DC","#0000FF"]}, "legend": {"title": null}},
            "strokeDash": {"field": "method", "type": "nominal", "scale": {"domain": ["cHL","eHL (s=1/3)","eHL (s=1/2)","eHL (s=2/3)","oracle eHL (s=0)","oracle eHL (s=1/2)"], "range": [[2.4,2.4],[1,0],[1,0],[1,0],[6.5,3.5],[6.5,3.5]]}, "legend": {"title": null}}
          }
        },
        {
          "data": {"name": "b4096"},
          "transform": [{"filter": {"field": "method", "oneOf": ["oracle eHL (s=1/2)"]}}],
          "mark": {"type": "line", "strokeWidth": 2.7, "strokeCap": "butt"},
          "encoding": {
            "x": {"field": "lack", "type": "quantitative", "scale": {"domain": [-0.005, 0.105], "nice": false, "zero": false}, "axis": null},
            "y": {"field": "value", "type": "quantitative", "scale": {"domain": [-14.7, 130.3], "nice": false, "zero": false},
              "axis": {"orient": "right", "offset": 0, "domain": false, "ticks": true, "values": [-14.7, 130.3], "tickSize": 26, "tickColor": "#333333", "tickWidth": 1.1, "labels": false, "grid": false, "title": null, "zindex": 1}},
            "color": {"field": "method", "type": "nominal", "scale": {"domain": ["cHL","eHL (s=1/3)","eHL (s=1/2)","eHL (s=2/3)","oracle eHL (s=0)","oracle eHL (s=1/2)"], "range": ["#000000","#F1BA78","#FF6464","#A1321B","#7AA6DC","#0000FF"]}, "legend": {"title": null}},
            "strokeDash": {"field": "method", "type": "nominal", "scale": {"domain": ["cHL","eHL (s=1/3)","eHL (s=1/2)","eHL (s=2/3)","oracle eHL (s=0)","oracle eHL (s=1/2)"], "range": [[2.4,2.4],[1,0],[1,0],[1,0],[6.5,3.5],[6.5,3.5]]}, "legend": {"title": null}}
          }
        }
      ]
    }
  ]
}
